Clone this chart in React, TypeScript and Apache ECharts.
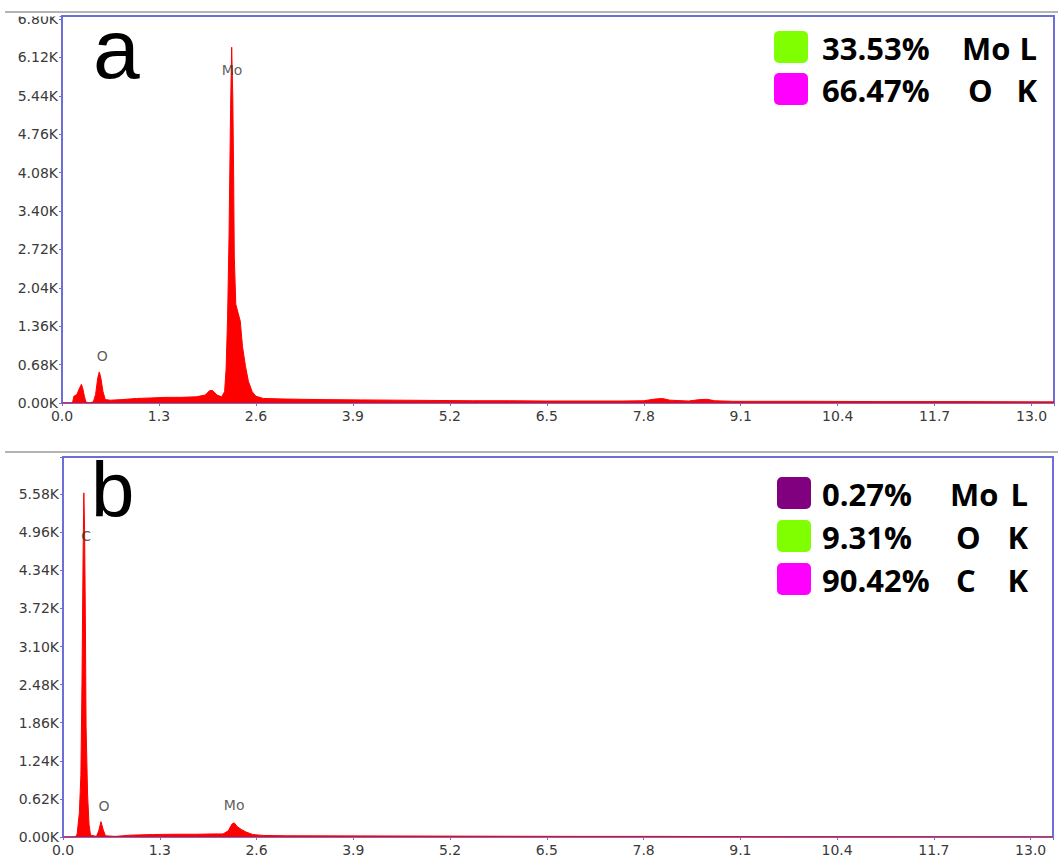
import React, { useEffect, useRef } from "react";
import * as echarts from "echarts";

// ---------- Panel a spectrum (energy keV, counts in K) ----------
const energyA = [
  0.0, 0.14, 0.16, 0.2, 0.23, 0.26, 0.28, 0.3, 0.32, 0.36, 0.42, 0.45, 0.48, 0.5, 0.52, 0.55, 0.58, 0.65,
  0.8, 1.0, 1.2, 1.4, 1.6, 1.8, 1.92, 1.98, 2.02, 2.08, 2.14, 2.18, 2.2, 2.22, 2.24, 2.26, 2.275, 2.29,
  2.3, 2.31, 2.33, 2.36, 2.39, 2.42, 2.46, 2.5, 2.55, 2.6, 2.7, 3.0, 3.5, 4.0, 4.5, 5.0, 5.5, 6.0, 6.5,
  7.0, 7.5, 7.8, 7.95, 8.05, 8.15, 8.4, 8.55, 8.65, 8.75, 9.0, 10.0, 11.0, 12.0, 13.3,
];
const countsA = [
  0, 0, 0.12, 0.15, 0.25, 0.33, 0.25, 0.12, 0.02, 0.0, 0.02, 0.15, 0.45, 0.55, 0.45, 0.2, 0.06, 0.05,
  0.06, 0.08, 0.09, 0.1, 0.1, 0.11, 0.14, 0.22, 0.22, 0.14, 0.11, 0.2, 0.6, 1.5, 3.0, 5.2, 6.3, 5.4,
  4.2, 2.6, 1.75, 1.6, 1.45, 1.0, 0.65, 0.38, 0.2, 0.12, 0.08, 0.07, 0.06, 0.055, 0.05, 0.045, 0.04, 0.04, 0.035,
  0.035, 0.035, 0.04, 0.07, 0.08, 0.05, 0.035, 0.06, 0.065, 0.04, 0.03, 0.03, 0.025, 0.025, 0.02,
];

// ---------- Panel b spectrum ----------
const energyB = [
  0.0, 0.17, 0.19, 0.22, 0.24, 0.255, 0.27, 0.28, 0.29, 0.3, 0.31, 0.33, 0.35, 0.37, 0.45, 0.48, 0.51,
  0.54, 0.57, 0.7, 0.9, 1.2, 1.5, 1.8, 2.0, 2.15, 2.22, 2.27, 2.3, 2.34, 2.4, 2.46, 2.55, 2.7, 3.0, 4.0,
  5.0, 6.0, 7.0, 8.0, 9.0, 10.0, 11.0, 12.0, 13.3,
];
const countsB = [
  0, 0, 0.05, 0.4, 1.0, 2.5, 4.6, 5.6, 5.0, 3.6, 1.8, 0.7, 0.2, 0.03, 0.01, 0.1, 0.25,
  0.12, 0.02, 0.01, 0.03, 0.04, 0.045, 0.045, 0.05, 0.05, 0.1, 0.21, 0.23, 0.17, 0.12, 0.08, 0.04, 0.025, 0.02, 0.018,
  0.015, 0.012, 0.01, 0.01, 0.006, 0.004, 0.003, 0.002, 0.0,
];

// ---------- peak annotations ----------
const peakNamesA = ["Mo", "O"];
const peakEnergyA = [2.28, 0.54];
const peakHeightA = [5.9, 0.83];
const peakNamesB = ["C", "O", "Mo"];
const peakEnergyB = [0.31, 0.55, 2.3];
const peakHeightB = [4.9, 0.5, 0.52];

// ---------- axes ----------
const xMax = 13.3;
const xStep = 1.3;
const yStepA = 0.68;
const yMaxA = 6.853;
const yStepB = 0.62;
const yMaxB = 6.184;

// ---------- composition boxes ----------
const compPctA = ["33.53%", "66.47%"];
const compElA = ["Mo", "O"];
const compLineA = ["L", "K"];
const compColorA = ["#80ff00", "#ff00ff"];
const compPctB = ["0.27%", "9.31%", "90.42%"];
const compElB = ["Mo", "O", "C"];
const compLineB = ["L", "K", "K"];
const compColorB = ["#800080", "#80ff00", "#ff00ff"];

const AX_FONT = "DejaVu Sans";
const BORDER = "#6e6ed8";

const isMult = (v: number, s: number) => Math.abs(v / s - Math.round(v / s)) < 1e-3;

function makeX(gi: number) {
  return {
    type: "value",
    gridIndex: gi,
    min: 0,
    max: xMax,
    interval: xStep,
    axisLine: { show: false },
    splitLine: { show: false },
    axisTick: { show: true, length: 3, lineStyle: { color: BORDER } },
    axisLabel: {
      color: "#3a3a3a",
      fontFamily: AX_FONT,
      fontSize: 14,
      margin: 6,
      formatter: (v: number) => (isMult(v, xStep) ? v.toFixed(1) : ""),
    },
  };
}

function makeY(gi: number, max: number, step: number) {
  return {
    type: "value",
    gridIndex: gi,
    min: 0,
    max,
    interval: step,
    axisLine: { show: false },
    splitLine: { show: false },
    axisTick: { show: true, length: 3, lineStyle: { color: BORDER } },
    axisLabel: {
      color: "#3a3a3a",
      fontFamily: AX_FONT,
      fontSize: 14,
      margin: 4,
      formatter: (v: number) => (isMult(v, step) ? v.toFixed(2) + "K" : ""),
    },
  };
}

function spectrum(gi: number, xs: number[], ys: number[]) {
  return {
    type: "line",
    xAxisIndex: gi,
    yAxisIndex: gi,
    data: xs.map((e, i) => [e, ys[i]]),
    showSymbol: false,
    symbol: "none",
    silent: true,
    lineStyle: { color: "#ff0000", width: 1 },
    areaStyle: { color: "#ff0000", opacity: 1 },
  };
}

function peakLabels(gi: number, names: string[], es: number[], hs: number[]) {
  return {
    type: "scatter",
    xAxisIndex: gi,
    yAxisIndex: gi,
    symbolSize: 1,
    silent: true,
    itemStyle: { color: "transparent" },
    data: names.map((n, i) => ({ name: n, value: [es[i], hs[i]] })),
    label: {
      show: true,
      position: "inside",
      formatter: "{b}",
      color: "#333",
      fontFamily: AX_FONT,
      fontSize: 14,
    },
    z: 5,
  };
}

const LEG_FONT = 'bold 31px "Open Sans"';

function txt(text: string, x: number, y: number, align: string, font = LEG_FONT) {
  return {
    type: "text",
    x,
    y,
    z: 100,
    style: {
      text,
      font,
      fill: "#000",
      textAlign: align,
      textVerticalAlign: "middle",
      align,
      verticalAlign: "middle",
    },
  };
}

function compBox(
  pcts: string[],
  els: string[],
  lines: string[],
  colors: string[],
  rectX: number,
  rectY0: number,
  rowH: number,
  pctX: number,
  elX: number,
  lineRight: number
) {
  const out: any[] = [];
  pcts.forEach((p, i) => {
    const top = rectY0 + i * rowH;
    out.push({
      type: "rect",
      z: 100,
      shape: { x: rectX, y: top, width: 34, height: 32, r: 5 },
      style: { fill: colors[i] },
    });
    const cy = top + 17;
    out.push(txt(p, pctX, cy, "left"));
    out.push(txt(els[i], elX + (els[i] === "Mo" ? 0 : 6), cy, "left"));
    out.push(txt(lines[i], lineRight, cy, "right"));
  });
  return out;
}

export default function App() {
  const ref = useRef<HTMLDivElement>(null);
  useEffect(() => {
    if (!ref.current) return;
    const chart = echarts.init(ref.current, undefined, { renderer: "svg" });
    const option: any = {
      animation: false,
      backgroundColor: "#fff",
      grid: [
        { left: 62, top: 16, width: 992, height: 387, show: true, borderColor: BORDER, borderWidth: 2, backgroundColor: "transparent" },
        { left: 63, top: 457, width: 990, height: 380, show: true, borderColor: BORDER, borderWidth: 2, backgroundColor: "transparent" },
      ],
      xAxis: [makeX(0), makeX(1)],
      yAxis: [makeY(0, yMaxA, yStepA), makeY(1, yMaxB, yStepB)],
      series: [
        spectrum(0, energyA, countsA),
        spectrum(1, energyB, countsB),
        peakLabels(0, peakNamesA, peakEnergyA, peakHeightA),
        peakLabels(1, peakNamesB, peakEnergyB, peakHeightB),
      ],
      graphic: [
        { type: "rect", z: 99, shape: { x: 0, y: 0, width: 60, height: 16.5 }, style: { fill: "#fff" } },
        { type: "line", z: 101, shape: { x1: 5, y1: 12, x2: 1058, y2: 12 }, style: { stroke: "#b4b4b4", lineWidth: 2 } },
        { type: "line", z: 101, shape: { x1: 5, y1: 452, x2: 1058, y2: 452 }, style: { stroke: "#b4b4b4", lineWidth: 2 } },
        txt("a", 93, 49, "left", '84px "Liberation Sans"'),
        txt("b", 91, 490, "left", '78px "Liberation Sans"'),
        ...compBox(compPctA, compElA, compLineA, compColorA, 774, 31, 42, 822, 962, 1037),
        ...compBox(compPctB, compElB, compLineB, compColorB, 777, 477, 43, 822, 950, 1028),
      ],
    };
    chart.setOption(option);
    return () => chart.dispose();
  }, []);
  return (
    <div
      ref={ref}
      style={{ position: "fixed", left: 0, top: 0, width: 1058, height: 862, background: "#fff" }}
    />
  );
}
